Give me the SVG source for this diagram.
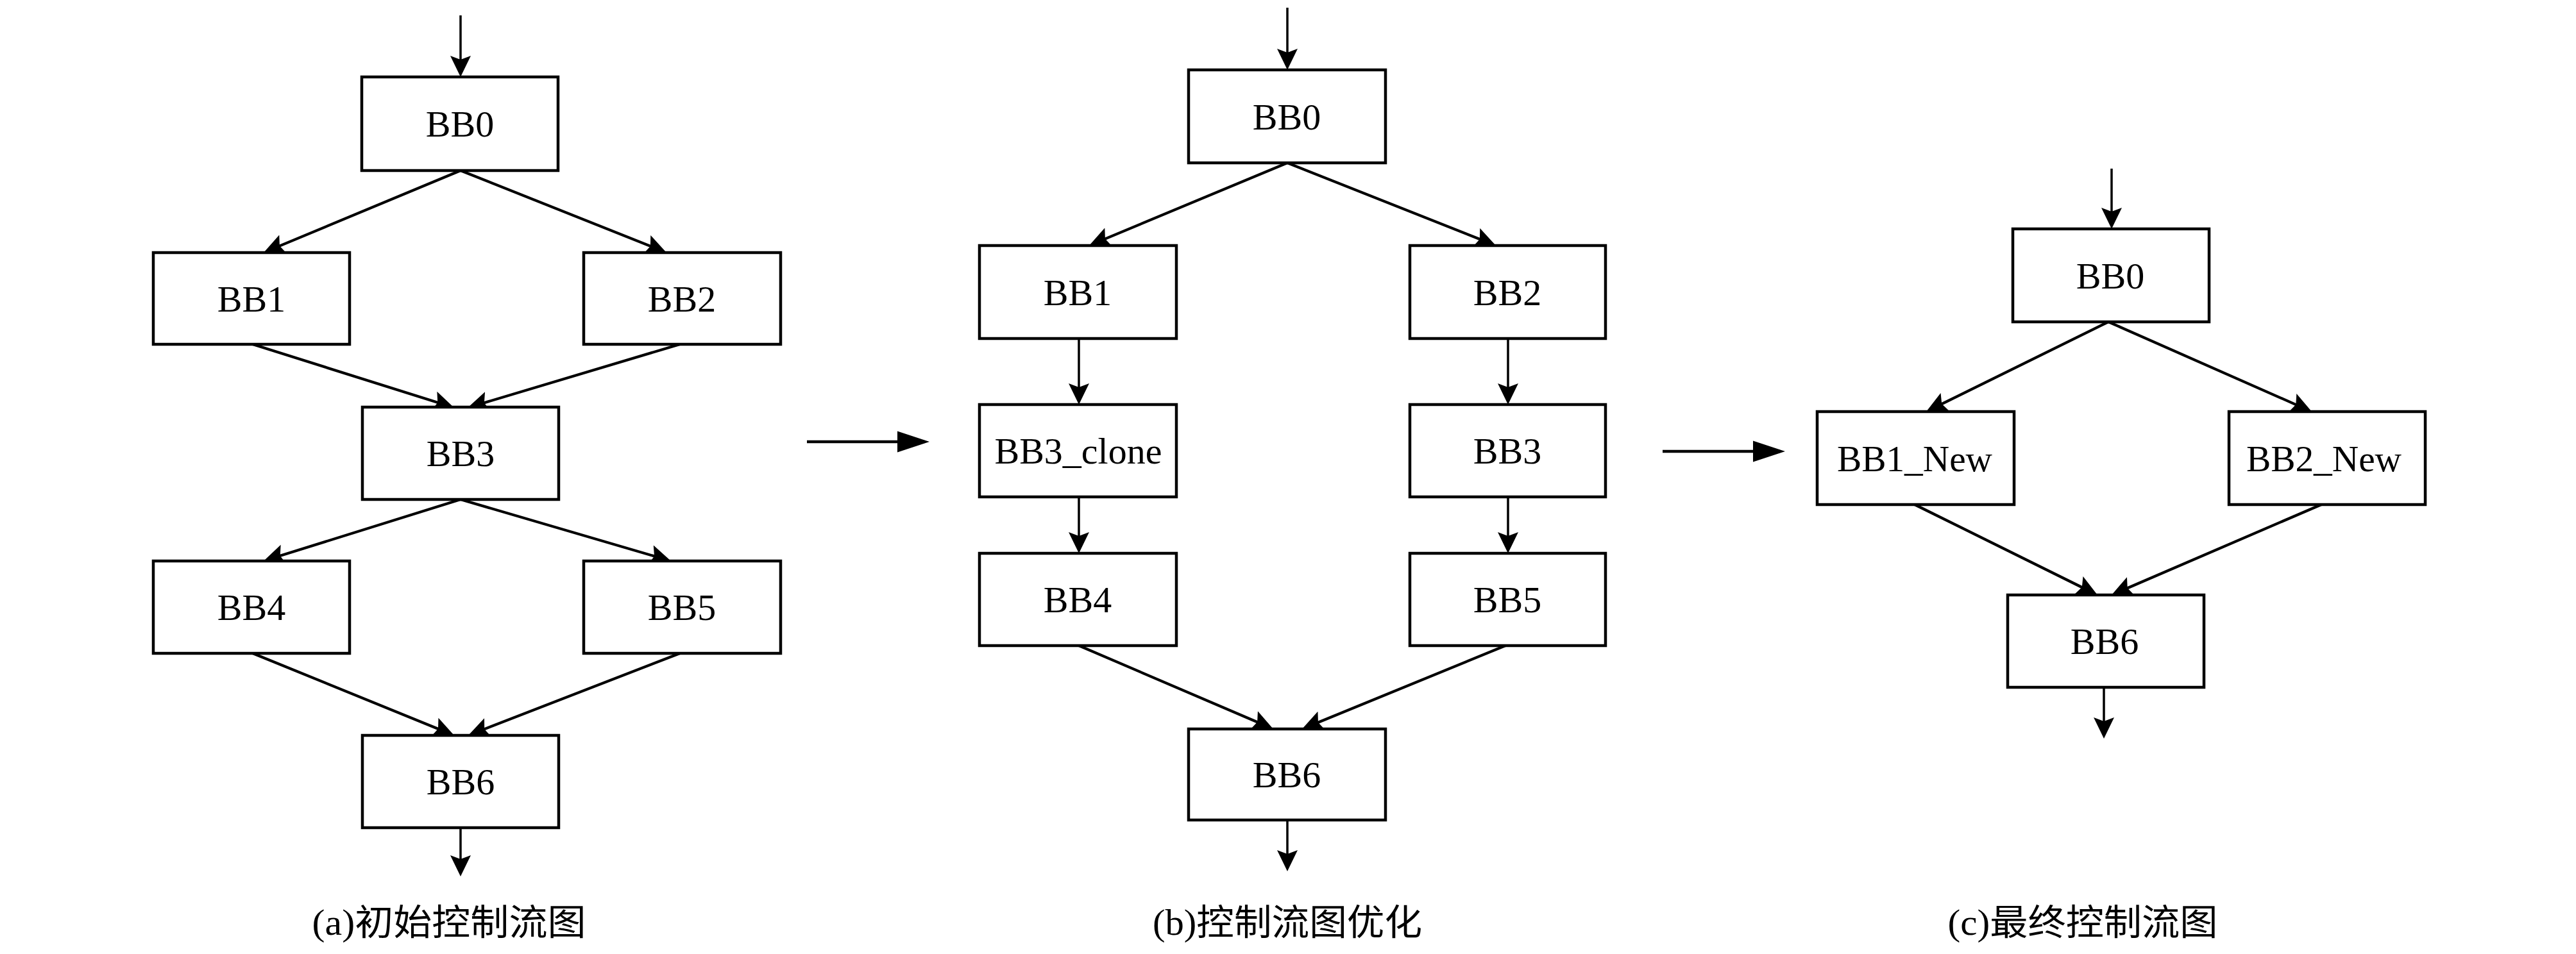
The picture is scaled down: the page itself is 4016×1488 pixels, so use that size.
<svg xmlns="http://www.w3.org/2000/svg" width="4016" height="1488" viewBox="0 0 4016 1488">
<style>
.box{fill:#fff;stroke:#000;stroke-width:4.5}
.lbl{font-family:"Liberation Serif","Times New Roman",serif;font-size:58px;text-anchor:middle;fill:#000}
.cap{font-family:"Liberation Serif","Noto Sans CJK SC",serif;font-size:56px;text-anchor:middle;fill:#000}
.d{stroke:#000;stroke-width:4.2;fill:none;marker-end:url(#ah)}
.v{stroke:#000;stroke-width:3.5;fill:none;marker-end:url(#ah)}
.t{stroke:#000;stroke-width:4.5;fill:none;marker-end:url(#big)}
</style>
<defs>
<marker id="ah" markerUnits="userSpaceOnUse" markerWidth="36" markerHeight="36" viewBox="0 -18 36 36" refX="25" refY="0" orient="auto">
<path d="M0,-16 L33,0 L0,16 L6,0 Z" fill="#000"/>
</marker>
<marker id="big" markerUnits="userSpaceOnUse" markerWidth="52" markerHeight="36" viewBox="0 -17 52 34" refX="42" refY="0" orient="auto">
<path d="M0,-16.5 L50,0 L0,16.5 Z" fill="#000"/>
</marker>
</defs>
<rect width="4016" height="1488" fill="#fff"/>

<g id="connectors">
<!-- panel a -->
<line class="v" x1="718" y1="24" x2="718" y2="112"/>
<line class="d" x1="718" y1="266" x2="418.4" y2="390.9"/>
<line class="d" x1="718" y1="266" x2="1031.6" y2="391"/>
<line class="d" x1="394" y1="537" x2="700.4" y2="633.6"/>
<line class="d" x1="1060" y1="537" x2="736.7" y2="633.7"/>
<line class="d" x1="718" y1="779" x2="418.6" y2="872.6"/>
<line class="d" x1="718" y1="779" x2="1038.3" y2="872.8"/>
<line class="d" x1="394" y1="1019" x2="700.6" y2="1144"/>
<line class="d" x1="1060" y1="1019" x2="737.5" y2="1144.1"/>
<line class="v" x1="718" y1="1291" x2="718" y2="1359"/>
<!-- transitions -->
<line class="t" x1="1258" y1="689" x2="1441" y2="689"/>
<line class="t" x1="2592" y1="704" x2="2775" y2="704"/>
<!-- panel b -->
<line class="v" x1="2007" y1="12" x2="2007" y2="101"/>
<line class="d" x1="2007" y1="254" x2="1705.4" y2="379.9"/>
<line class="d" x1="2007" y1="254" x2="2324.6" y2="380"/>
<line class="v" x1="1682" y1="528" x2="1682" y2="623"/>
<line class="v" x1="2351" y1="528" x2="2351" y2="623"/>
<line class="v" x1="1682" y1="775" x2="1682" y2="855"/>
<line class="v" x1="2351" y1="775" x2="2351" y2="855"/>
<line class="d" x1="1682" y1="1007" x2="1977.6" y2="1133.8"/>
<line class="d" x1="2347" y1="1007" x2="2037.4" y2="1134"/>
<line class="v" x1="2007" y1="1279" x2="2007" y2="1351"/>
<!-- panel c -->
<line class="v" x1="3292" y1="263" x2="3292" y2="349"/>
<line class="d" x1="3287" y1="502" x2="3010.2" y2="638.5"/>
<line class="d" x1="3287" y1="502" x2="3596.7" y2="638.8"/>
<line class="d" x1="2985" y1="787" x2="3262.8" y2="924.5"/>
<line class="d" x1="3619" y1="787" x2="3299.3" y2="924.8"/>
<line class="v" x1="3280" y1="1072" x2="3280" y2="1144"/>
</g>

<!-- panel a nodes -->
<g id="a_BB0"><rect class="box" x="564" y="120" width="306" height="146"/><text class="lbl" x="717" y="213">BB0</text></g>
<g id="a_BB1"><rect class="box" x="239" y="394" width="306" height="143"/><text class="lbl" x="392" y="486">BB1</text></g>
<g id="a_BB2"><rect class="box" x="910" y="394" width="307" height="143"/><text class="lbl" x="1063" y="486">BB2</text></g>
<g id="a_BB3"><rect class="box" x="565" y="635" width="306" height="144"/><text class="lbl" x="718" y="727">BB3</text></g>
<g id="a_BB4"><rect class="box" x="239" y="875" width="306" height="144"/><text class="lbl" x="392" y="967">BB4</text></g>
<g id="a_BB5"><rect class="box" x="910" y="875" width="307" height="144"/><text class="lbl" x="1063" y="967">BB5</text></g>
<g id="a_BB6"><rect class="box" x="565" y="1147" width="306" height="144"/><text class="lbl" x="718" y="1239">BB6</text></g>

<!-- panel b nodes -->
<g id="b_BB0"><rect class="box" x="1853" y="109" width="307" height="145"/><text class="lbl" x="2006" y="202">BB0</text></g>
<g id="b_BB1"><rect class="box" x="1527" y="383" width="307" height="145"/><text class="lbl" x="1680" y="476">BB1</text></g>
<g id="b_BB2"><rect class="box" x="2198" y="383" width="305" height="145"/><text class="lbl" x="2350" y="476">BB2</text></g>
<g id="b_BB3_clone"><rect class="box" x="1527" y="631" width="307" height="144"/><text class="lbl" x="1681" y="723">BB3_clone</text></g>
<g id="b_BB3"><rect class="box" x="2198" y="631" width="305" height="144"/><text class="lbl" x="2350" y="723">BB3</text></g>
<g id="b_BB4"><rect class="box" x="1527" y="863" width="307" height="144"/><text class="lbl" x="1680" y="955">BB4</text></g>
<g id="b_BB5"><rect class="box" x="2198" y="863" width="305" height="144"/><text class="lbl" x="2350" y="955">BB5</text></g>
<g id="b_BB6"><rect class="box" x="1853" y="1137" width="307" height="142"/><text class="lbl" x="2006" y="1228">BB6</text></g>

<!-- panel c nodes -->
<g id="c_BB0"><rect class="box" x="3138" y="357" width="306" height="145"/><text class="lbl" x="3290" y="450">BB0</text></g>
<g id="c_BB1_New"><rect class="box" x="2833" y="642" width="307" height="145"/><text class="lbl" x="2985" y="735" textLength="242" lengthAdjust="spacingAndGlyphs">BB1_New</text></g>
<g id="c_BB2_New"><rect class="box" x="3475" y="642" width="306" height="145"/><text class="lbl" x="3623" y="735" textLength="242" lengthAdjust="spacingAndGlyphs">BB2_New</text></g>
<g id="c_BB6"><rect class="box" x="3130" y="928" width="306" height="144"/><text class="lbl" x="3281" y="1020">BB6</text></g>

<!-- captions -->
<g id="captions">
<text class="cap" x="700" y="1458" textLength="427" lengthAdjust="spacingAndGlyphs">(a)初始控制流图</text>
<text class="cap" x="2007" y="1458" textLength="420" lengthAdjust="spacingAndGlyphs">(b)控制流图优化</text>
<text class="cap" x="3247" y="1458" textLength="421" lengthAdjust="spacingAndGlyphs">(c)最终控制流图</text>
</g>
</svg>
